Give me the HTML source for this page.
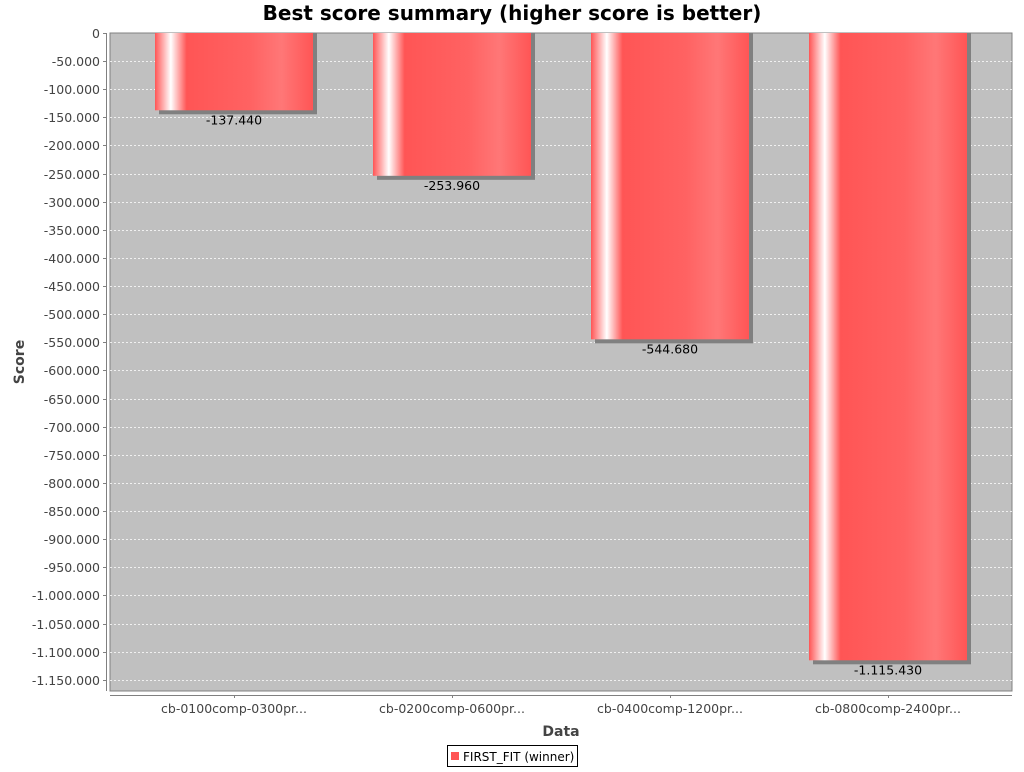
<!DOCTYPE html>
<html><head><meta charset="utf-8"><style>
body{margin:0;background:#fff;width:1024px;height:768px;overflow:hidden;font-family:"DejaVu Sans","Liberation Sans",sans-serif}
svg text{font-family:"DejaVu Sans","Liberation Sans",sans-serif}
</style></head><body>
<svg id="chart" width="1024" height="768">
<defs>
<linearGradient id="barGrad" x1="0" x2="1" y1="0" y2="0">
<stop offset="0" stop-color="#ff5555"/>
<stop offset="0.1" stop-color="#ffffff"/>
<stop offset="0.2" stop-color="#ff5555"/>
<stop offset="0.6" stop-color="#ff6262"/>
<stop offset="0.8" stop-color="#ff7777"/>
<stop offset="1" stop-color="#ff5555"/>
</linearGradient>
</defs>
<text x="512" y="20" text-anchor="middle" font-size="20" font-weight="bold">Best score summary (higher score is better)</text>
<rect x="110" y="33" width="902" height="658" fill="#c0c0c0" stroke="#808080"/>
<g id="grid"></g>
<g id="bars"></g>
<line x1="106.5" y1="33" x2="106.5" y2="691" stroke="#808080"/>
<line x1="110" y1="695.5" x2="1012" y2="695.5" stroke="#808080"/>
<g id="yticks"></g>
<g id="xticks"></g>
<text transform="translate(24,362) rotate(-90)" text-anchor="middle" font-size="14" font-weight="bold" fill="#444">Score</text>
<text x="561" y="736" text-anchor="middle" font-size="14" font-weight="bold" fill="#444">Data</text>
<g>
<rect x="447.5" y="745.5" width="130" height="21" fill="#fff" stroke="#000"/>
<rect x="451" y="752" width="8" height="8" fill="#ff5555"/>
<text x="463" y="761" font-size="12" fill="#000">FIRST_FIT (winner)</text>
</g>
</svg>
<script>
const categories=["cb-0100comp-0300pr...","cb-0200comp-0600pr...","cb-0400comp-1200pr...","cb-0800comp-2400pr..."];
const values=[-137440,-253960,-544680,-1115430];
const valueLabels=["-137.440","-253.960","-544.680","-1.115.430"];
const tickValues=[0,-50000,-100000,-150000,-200000,-250000,-300000,-350000,-400000,-450000,-500000,-550000,-600000,-650000,-700000,-750000,-800000,-850000,-900000,-950000,-1000000,-1050000,-1100000,-1150000];
const ns="http://www.w3.org/2000/svg";
const X0=110,W=902,Y0=33,H=658,YMIN=-1170000;
const CX0=125,CW=872;
function y(v){return Y0+(v/YMIN)*H;}
function xc(i){return CX0+CW/categories.length*(i+0.5);}
function fmt(v){if(v===0)return "0";const s=Math.abs(v).toString().replace(/\B(?=(\d{3})+(?!\d))/g,".");return "-"+s;}
function mk(tag,attrs,parent){const e=document.createElementNS(ns,tag);for(const k in attrs)e.setAttribute(k,attrs[k]);parent.appendChild(e);return e;}
const grid=document.getElementById('grid'),yt=document.getElementById('yticks'),bars=document.getElementById('bars'),xt=document.getElementById('xticks');
tickValues.forEach(v=>{
 const yy=Math.round(y(v))+0.5;
 if(v!==0){const g=mk('line',{x1:X0,x2:X0+W,y1:yy,y2:yy,stroke:'#ffffff','stroke-dasharray':'2,2','stroke-width':0.8},grid);
 
 }
 const t=mk('line',{x1:103,x2:106,y1:yy,y2:yy,stroke:'#808080'},yt);
 
 
 const l=mk('text',{x:100,y:yy+4.5,'text-anchor':'end','font-size':12.5,fill:'#444'},yt);
 l.textContent=fmt(v);
 
 
});
const bw=158;
values.forEach((v,i)=>{
 const cx=xc(i),x=cx-bw/2,yb=y(v),h=yb-Y0;
 const s=mk('rect',{x:x+4,y:Y0,width:bw,height:h+4,fill:'#808080'},bars);
 
 
 const b=mk('rect',{x:x,y:Y0,width:bw,height:h,fill:'url(#barGrad)'},bars);
 
 
 const t=mk('text',{x:cx,y:yb+14,'text-anchor':'middle','font-size':12.5,fill:'#000'},bars);
 t.textContent=valueLabels[i];
 
 
 const tk=mk('line',{x1:Math.round(cx)+0.5,x2:Math.round(cx)+0.5,y1:695,y2:698,stroke:'#808080'},xt);
 
 
 const c=mk('text',{x:cx,y:713,'text-anchor':'middle','font-size':12.5,fill:'#444'},xt);
 c.textContent=categories[i];
 
 
});
</script>
</body></html>
